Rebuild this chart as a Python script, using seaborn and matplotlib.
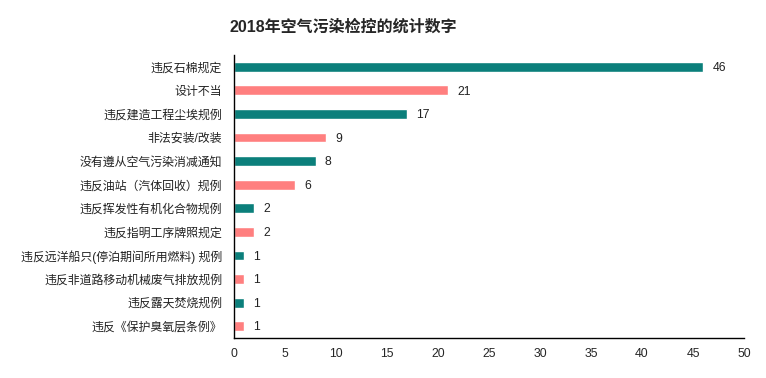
import matplotlib
matplotlib.use("Agg")
from matplotlib import pyplot as plt
import pandas as pd
import seaborn as sns

categories = [
    "违反石棉规定",
    "设计不当",
    "违反建造工程尘埃规例",
    "非法安装/改装",
    "没有遵从空气污染消减通知",
    "违反油站（汽体回收）规例",
    "违反挥发性有机化合物规例",
    "违反指明工序牌照规定",
    "违反远洋船只(停泊期间所用燃料) 规例",
    "违反非道路移动机械废气排放规例",
    "违反露天焚烧规例",
    "违反《保护臭氧层条例》",
]
counts = [46, 21, 17, 9, 8, 6, 2, 2, 1, 1, 1, 1]
bar_colors = ["#0b7f7b", "#ff7f7f"] * 6

title = "2018年空气污染检控的统计数字"
xticks = [0, 5, 10, 15, 20, 25, 30, 35, 40, 45, 50]

sns.set_style("white")
plt.rcParams["font.family"] = ["Liberation Sans", "Noto Sans CJK SC", "DejaVu Sans"]

df = pd.DataFrame({"category": categories, "count": counts})

fig = plt.figure(figsize=(7.66, 3.78), dpi=100)
ax = fig.add_axes([234 / 766, 1 - 338 / 378, 510 / 766, 283 / 378])

sns.barplot(data=df, x="count", y="category", hue="category",
            palette=bar_colors, width=0.42, legend=False, ax=ax, saturation=1)

for i, v in enumerate(counts):
    ax.text(v + 0.9, i + 0.05, str(v), va="center", ha="left", fontsize=8.8, color="#222222")

ax.set_xlim(0, 50)
ax.set_ylim(11.5, -0.5)
ax.set_xticks(xticks)
ax.set_xlabel("")
ax.set_ylabel("")
ax.tick_params(axis="x", direction="out", length=4, width=1, color="black",
               labelsize=8.8, pad=3)
ax.tick_params(axis="y", length=0, labelsize=8.6, pad=8.5)
for lab in ax.get_yticklabels():
    lab.set_color("#222222")

for side in ["top", "right"]:
    ax.spines[side].set_visible(False)
for side in ["left", "bottom"]:
    ax.spines[side].set_color("black")
    ax.spines[side].set_linewidth(1)

fig.text(230 / 766, 1 - 27 / 378, title, ha="left", va="center",
         fontsize=11.5, fontweight="bold")

plt.savefig("out.png", dpi=100)
plt.close()
